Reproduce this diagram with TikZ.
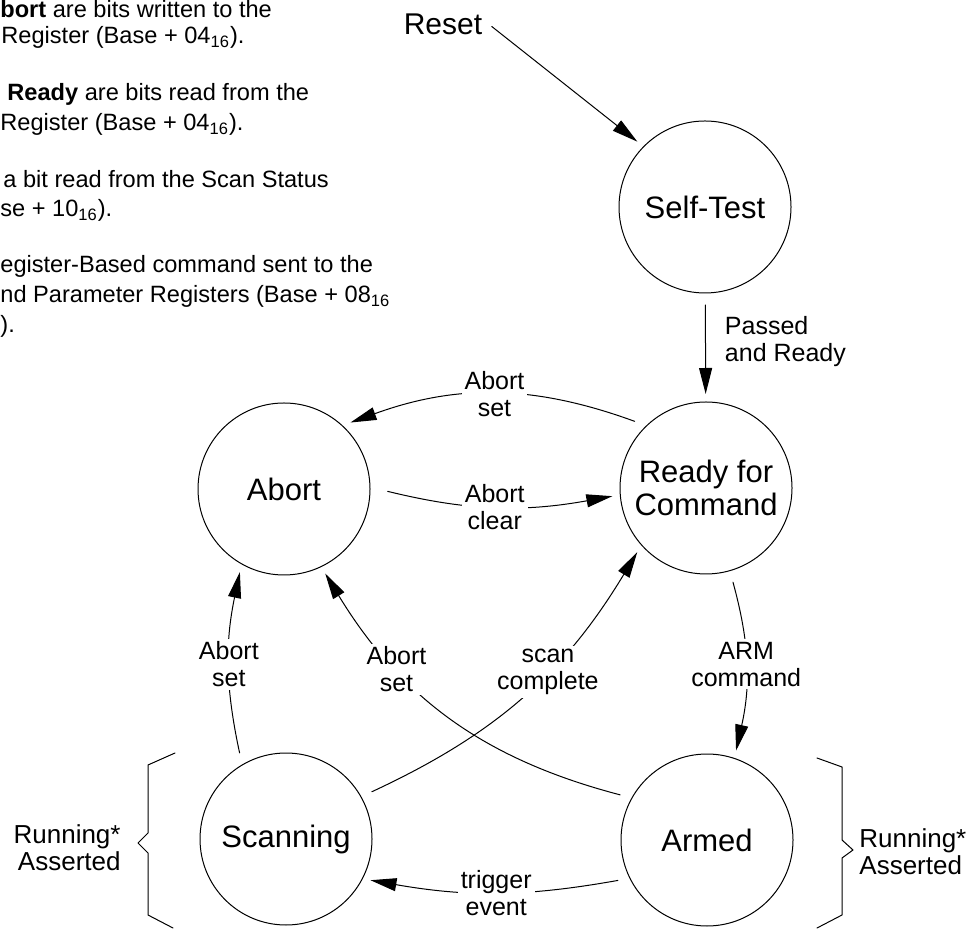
\documentclass[tikz,border=0pt]{standalone}
\usepackage{fontspec}
\setmainfont{Liberation Sans}
\usetikzlibrary{arrows.meta}
\tikzset{
  stnode/.style={circle, draw, line width=0.5pt, minimum size=86pt, inner sep=0pt, outer sep=4pt, align=center, font=\fontsize{15.5}{16.5}\selectfont},
  lbl/.style={fill=white, inner sep=1.5pt, align=center, font=\fontsize{12.5}{13.5}\selectfont},
  side/.style={inner sep=0pt, font=\fontsize{13}{13.5}\selectfont},
  note/.style={anchor=base west, inner sep=0pt, font=\fontsize{11.8}{14}\selectfont},
  trans/.style={-{Triangle[length=13pt,width=6.5pt]}, line width=0.5pt, shorten <=2pt},
  every picture/.style={line cap=round, line join=round}
}

\begin{document}
\begin{tikzpicture}[x=0.5pt, y=0.5pt]
  \useasboundingbox (0,0) rectangle (977,930);

  % notes at the upper left
  \node[note] (n1) at (0,912) {\textbf{bort} are bits written to the};
  \node[note] (n2) at (1,886) {Register (Base + 04\textsubscript{16}).};
  \node[note] (n3) at (7,829) {\textbf{Ready} are bits read from the};
  \node[note] (n4) at (0,799) {Register (Base + 04\textsubscript{16}).};
  \node[note] (n5) at (3,742) {a bit read from the Scan Status};
  \node[note] (n6) at (0,713) {se + 10\textsubscript{16}).};
  \node[note] (n7) at (0,657) {egister-Based command sent to the};
  \node[note] (n8) at (0,627) {nd Parameter Registers (Base + 08\textsubscript{16}};
  \node[note] (n9) at (0,597) {).};

  % states
  \node[inner sep=3pt, font=\fontsize{15}{16}\selectfont] (reset) at (443,906) {Reset};
  \node[stnode] (self) at (705,723) {Self-Test};
  \node[stnode] (rdy) at (706,442) {Ready for\\Command};
  \node[stnode] (abt) at (284,441) {Abort};
  \node[stnode] (scan) at (286,91) {Scanning};
  \node[stnode] (arm) at (707,90) {Armed};

  % transitions
  \draw[trans] (reset.east) -- (self.136);
  \draw[trans] (self) -- node[lbl, pos=0.44, right=8pt, align=left] {Passed\\and Ready} (rdy);
  \draw[trans] (rdy.136) to[bend right=20] node[lbl] {Abort\\set} (abt.45);
  \draw[trans, shorten <=5pt] (abt.0) to[bend right=12] node[lbl] {Abort\\clear} (rdy.185);
  \draw[trans] (scan.119) to[bend left=12] node[lbl] {Abort\\set} (abt.242);
  \draw[trans] (arm.152) to[bend left=22] node[lbl, pos=0.7] {Abort\\set} (abt.296);
  \draw[trans] (scan.29) to[bend right=17] node[lbl, pos=0.6] {scan\\complete} (rdy.223);
  \draw[trans] (rdy.286) to[bend left=14] node[lbl] {ARM\\command} (arm.72);
  \draw[trans] (arm.205) to[bend left=10] node[lbl] {trigger\\event} (scan.334);

  % braces
  \draw[line width=0.5pt] (175,177) -- (148,165) -- (148,97) -- (138,87) -- (148,77) -- (148,15) -- (173,2);
  \draw[line width=0.5pt] (817,172) -- (842,163) -- (842,90) -- (853,80) -- (842,72) -- (842,15) -- (817,2);
  \node[side, anchor=east, align=right] (runl) at (121,82) {Running*\\Asserted};
  \node[side, anchor=west, align=left] (runr) at (859,78) {Running*\\Asserted};
\end{tikzpicture}
\end{document}
